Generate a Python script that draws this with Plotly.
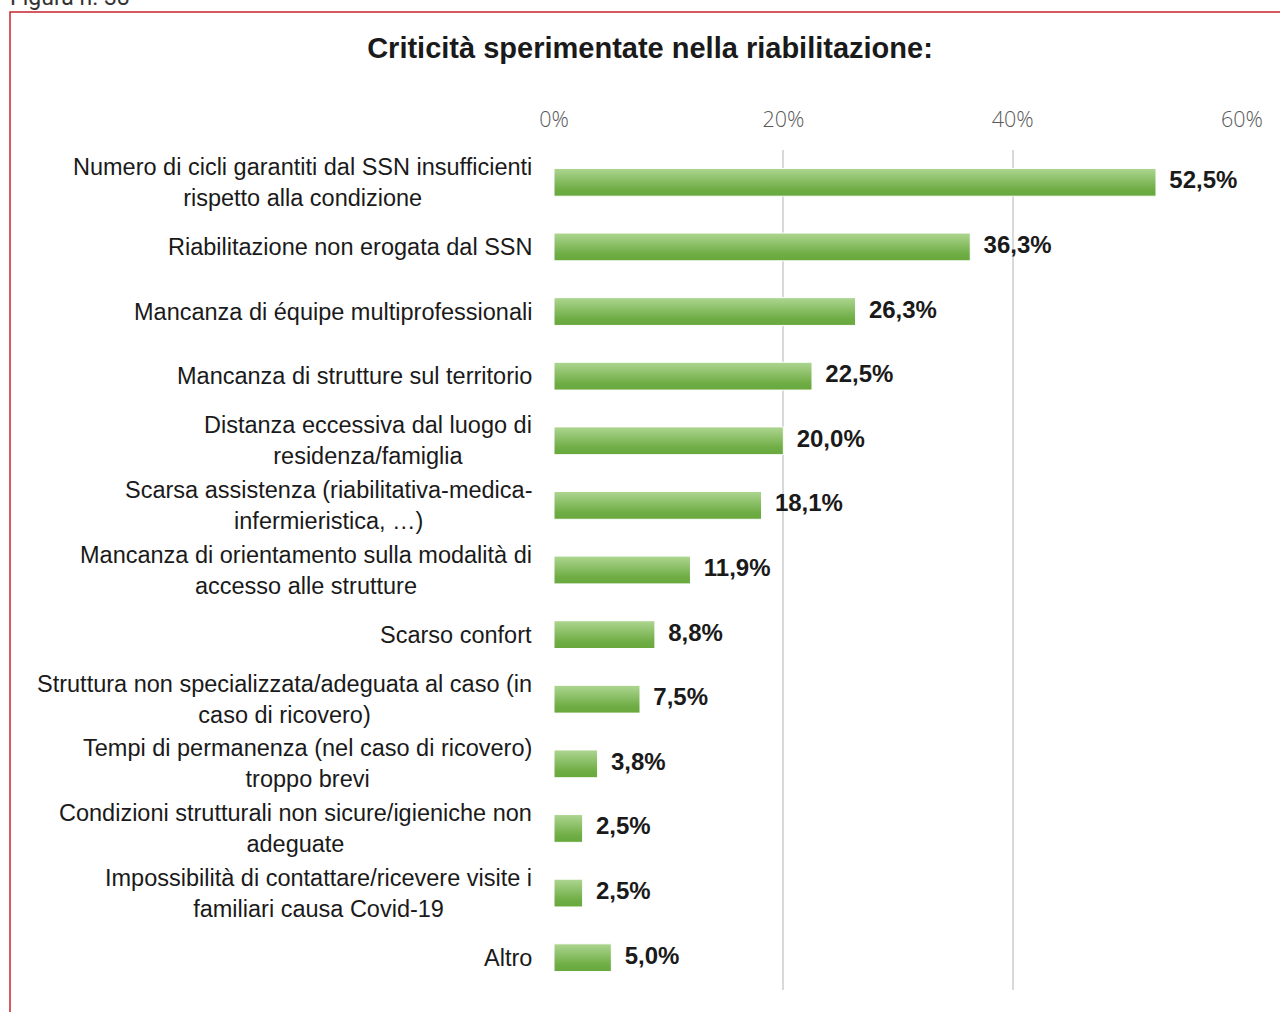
import plotly.graph_objects as go

CATEGORIES = [
    "Numero di cicli garantiti dal SSN insufficienti<br>rispetto alla condizione",
    "Riabilitazione non erogata dal SSN",
    "Mancanza di équipe multiprofessionali",
    "Mancanza di strutture sul territorio",
    "Distanza eccessiva dal luogo di<br>residenza/famiglia",
    "Scarsa assistenza (riabilitativa-medica-<br>infermieristica, …)",
    "Mancanza di orientamento sulla modalità di<br>accesso alle strutture",
    "Scarso confort",
    "Struttura non specializzata/adeguata al caso (in<br>caso di ricovero)",
    "Tempi di permanenza (nel caso di ricovero)<br>troppo brevi",
    "Condizioni strutturali non sicure/igieniche non<br>adeguate",
    "Impossibilità di contattare/ricevere visite i<br>familiari causa Covid-19",
    "Altro",
]
VALUES = [52.5, 36.3, 26.3, 22.5, 20.0, 18.1, 11.9, 8.8, 7.5, 3.8, 2.5, 2.5, 5.0]
TICK_VALUES = [0, 20, 40, 60]
TICK_LABELS = ["0%", "20%", "40%", "60%"]

TITLE = "Criticità sperimentate nella riabilitazione:"
FIGURE_NOTE = "Figura n. 38"

INK = "#1a1a1a"
MUTED = "#595959"
GRID = "#d9d9d9"
GREEN_TOP = "#67a83c"
GREEN_BOTTOM = "#aed691"
BORDER = "#c8232c"
SANS = "Liberation Sans, Arial, sans-serif"

W, H = 1280, 1012
M_L, M_R, M_T, M_B = 554, 38, 150, 22
HALF = 0.215  # half bar thickness in category units

fig = go.Figure()

for i, v in enumerate(VALUES):
    fig.add_trace(
        go.Scatter(
            x=[0, v, v, 0, 0],
            y=[i - HALF, i - HALF, i + HALF, i + HALF, i - HALF],
            mode="lines",
            fill="toself",
            fillgradient=dict(
                type="vertical",
                colorscale=[[0, GREEN_TOP], [0.25, "#6fad45"], [1, GREEN_BOTTOM]],
            ),
            line=dict(color="white", width=1),
            showlegend=False,
            hoverinfo="skip",
        )
    )

# value labels
fig.add_trace(
    go.Scatter(
        x=VALUES,
        y=list(range(len(VALUES))),
        mode="text",
        text=["  " + f"{v:.1f}%".replace(".", ",") for v in VALUES],
        textposition="middle right",
        textfont=dict(family=SANS, size=24, color=INK, weight="bold"),
        showlegend=False,
        hovertemplate="%{x:.1f}%<extra></extra>",
        cliponaxis=False,
    )
)

# category labels, centred multi-line text right-aligned against the axis
for i, label in enumerate(CATEGORIES):
    fig.add_annotation(
        x=0, xref="paper", y=i, yref="y",
        text=label, showarrow=False,
        xanchor="right", yanchor="middle", align="center", xshift=-20,
        font=dict(family=SANS, size=23.5, color=INK),
    )

plot_w = W - M_L - M_R
plot_h = H - M_T - M_B

fig.add_annotation(
    x=(8 - M_L) / plot_w, xref="paper", y=1, yref="paper",
    yshift=M_T - 13, yanchor="bottom", xanchor="left",
    text=FIGURE_NOTE, showarrow=False,
    font=dict(family="Roboto, Liberation Sans, sans-serif", size=23, color="#333333"),
)

fig.add_shape(
    type="rect", xref="paper", yref="paper",
    x0=(10 - M_L) / plot_w, x1=(W + 20 - M_L) / plot_w,
    y0=-(M_B + 20) / plot_h, y1=1 + (M_T - 12) / plot_h,
    line=dict(color=BORDER, width=1.5), layer="below",
)

fig.update_layout(
    width=W,
    height=H,
    paper_bgcolor="white",
    plot_bgcolor="white",
    margin=dict(l=M_L, r=M_R, t=M_T, b=M_B),
    title=dict(
        text=TITLE,
        x=650 / W, xanchor="center", y=1 - 48 / H, yanchor="middle",
        font=dict(family=SANS, size=29, color=INK, weight="bold"),
    ),
    font=dict(family=SANS, color=INK),
)
fig.update_xaxes(
    range=[0, 60],
    side="top",
    tickvals=TICK_VALUES,
    ticktext=TICK_LABELS,
    tickfont=dict(family="Open Sans, Liberation Sans, sans-serif", size=21.5, color=MUTED, weight=300),
    ticklabelstandoff=18,
    showgrid=True,
    gridcolor=GRID,
    gridwidth=2,
    zeroline=False,
    showline=False,
    fixedrange=True,
)
fig.update_yaxes(
    range=[len(VALUES) - 0.5, -0.5],
    showticklabels=False,
    showgrid=False,
    zeroline=False,
    showline=False,
    fixedrange=True,
)

# drop the page's default body margin so the figure sits at the window's corner
fig.write_html(
    "out.html",
    config={"displayModeBar": False},
    post_script="document.body.style.margin = '0';",
)
